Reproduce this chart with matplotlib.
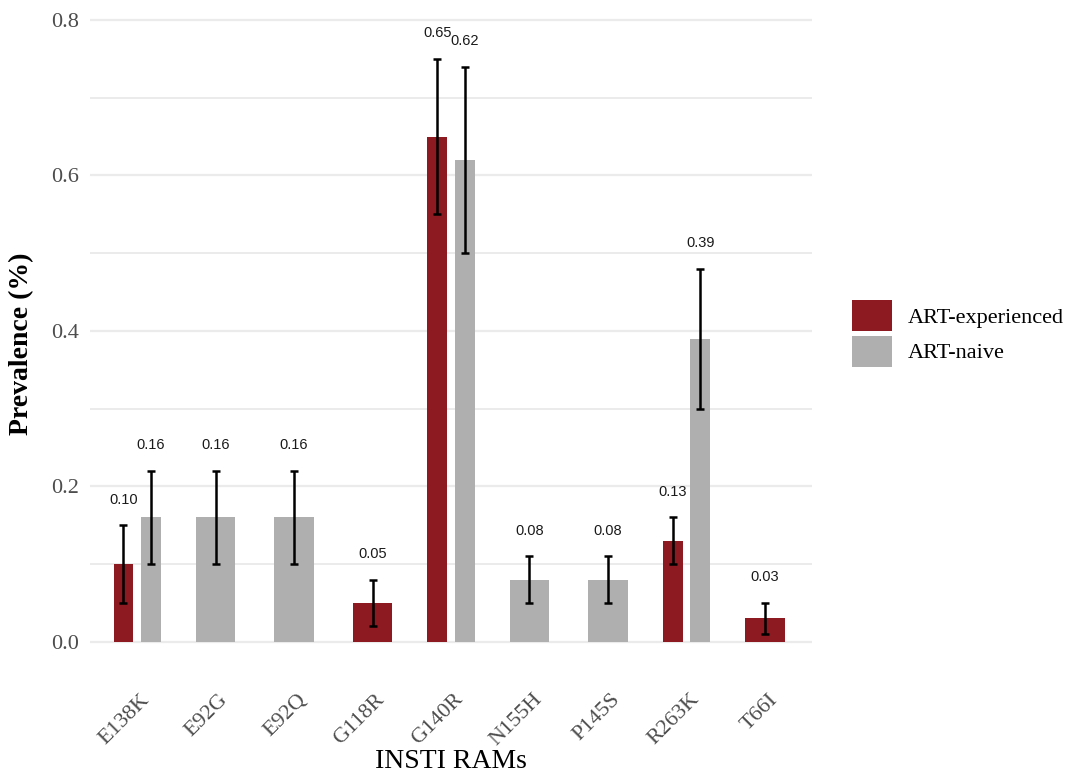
import numpy as np
import matplotlib
matplotlib.use("Agg")
import matplotlib.pyplot as plt
import matplotlib.transforms as mtransforms
from matplotlib.patches import Patch

nan = np.nan

# Integrase resistance-associated mutations and their prevalence (with 95% CI)
mutations = ["E138K", "E92G", "E92Q", "G118R", "G140R", "N155H", "P145S", "R263K", "T66I"]
groups = ["ART-experienced", "ART-naive"]

exp_prev = [0.10, nan, nan, 0.05, 0.65, nan, nan, 0.13, 0.03]
exp_lo = [0.05, nan, nan, 0.02, 0.55, nan, nan, 0.10, 0.01]
exp_hi = [0.15, nan, nan, 0.08, 0.75, nan, nan, 0.16, 0.05]

naive_prev = [0.16, 0.16, 0.16, nan, 0.62, 0.08, 0.08, 0.39, nan]
naive_lo = [0.10, 0.10, 0.10, nan, 0.50, 0.05, 0.05, 0.30, nan]
naive_hi = [0.22, 0.22, 0.22, nan, 0.74, 0.11, 0.11, 0.48, nan]

colors = {"ART-experienced": "#8C1A20", "ART-naive": "#AFAFAF"}

serif = ["Liberation Serif", "DejaVu Serif"]
sans = ["Liberation Sans", "DejaVu Sans"]

fig = plt.figure(figsize=(10.74, 7.76), dpi=100)
ax = fig.add_axes([90 / 1074, 1 - 672 / 776, 722 / 1074, 669 / 776])

series = {
    "ART-experienced": (exp_prev, exp_lo, exp_hi),
    "ART-naive": (naive_prev, naive_lo, naive_hi),
}

bar_w = 0.5
dodge_w = 0.7
for i, m in enumerate(mutations):
    present = [g for g in groups if not np.isnan(series[g][0][i])]
    n = len(present)
    for k, g in enumerate(present):
        vals, lo, hi = series[g]
        if n == 1:
            x, w = i, bar_w
        else:
            x = i + (k - (n - 1) / 2) * dodge_w / n
            w = bar_w / n
        ax.bar(x, vals[i], width=w, color=colors[g], zorder=2)
        ax.errorbar(x, vals[i], yerr=[[vals[i] - lo[i]], [hi[i] - vals[i]]],
                    fmt="none", ecolor="black", elinewidth=1.8, capsize=2.6,
                    capthick=1.8, zorder=3)
        ax.text(x, hi[i] + 0.033, f"{vals[i]:.2f}", ha="center", va="center",
                fontsize=10.5, family=sans, color="#1A1A1A", zorder=4)

ax.set_xlim(-0.6, len(mutations) - 1 + 0.6)
ax.set_ylim(-0.039, 0.822)

ax.set_yticks([0.0, 0.2, 0.4, 0.6, 0.8])
ax.set_yticks([0.1, 0.3, 0.5, 0.7], minor=True)
ax.set_yticklabels(["0.0", "0.2", "0.4", "0.6", "0.8"], family=serif,
                   fontsize=16, color="#4D4D4D")
ax.yaxis.grid(True, which="major", color="#EBEBEB", linewidth=1.6)
ax.yaxis.grid(True, which="minor", color="#EBEBEB", linewidth=1.4)
ax.xaxis.grid(False)
ax.set_axisbelow(True)
ax.tick_params(axis="y", which="both", length=0, pad=8)

ax.set_xticks(range(len(mutations)))
ax.set_xticklabels(mutations, rotation=45, ha="right", va="top",
                   rotation_mode="anchor", family=serif, fontsize=16,
                   color="#4D4D4D")
ax.tick_params(axis="x", length=0, pad=13)
offset = mtransforms.ScaledTranslation(3 / 100, 0, fig.dpi_scale_trans)
for lbl in ax.get_xticklabels():
    lbl.set_transform(lbl.get_transform() + offset)

for s in ax.spines.values():
    s.set_visible(False)

ax.set_ylabel("Prevalence (%)", family=serif, fontsize=20, fontweight="bold",
              color="black")
ax.yaxis.set_label_coords(-0.077, 0.49)
ax.set_xlabel("INSTI RAMs", family=serif, fontsize=20, color="black")
ax.xaxis.label.set_va("baseline")
ax.xaxis.set_label_coords(0.5, -(768 - 672) / 669)

handles = [Patch(facecolor=colors[g], edgecolor="none", label=g) for g in groups]
fig.legend(handles=handles, loc="upper left",
           bbox_to_anchor=(852 / 1074, 1 - 300 / 776), frameon=False,
           prop={"family": serif, "size": 16}, handlelength=1.8,
           handleheight=1.76, labelspacing=0.22, handletextpad=0.7,
           borderpad=0, borderaxespad=0)

fig.savefig("out.png", dpi=100, facecolor="white")
